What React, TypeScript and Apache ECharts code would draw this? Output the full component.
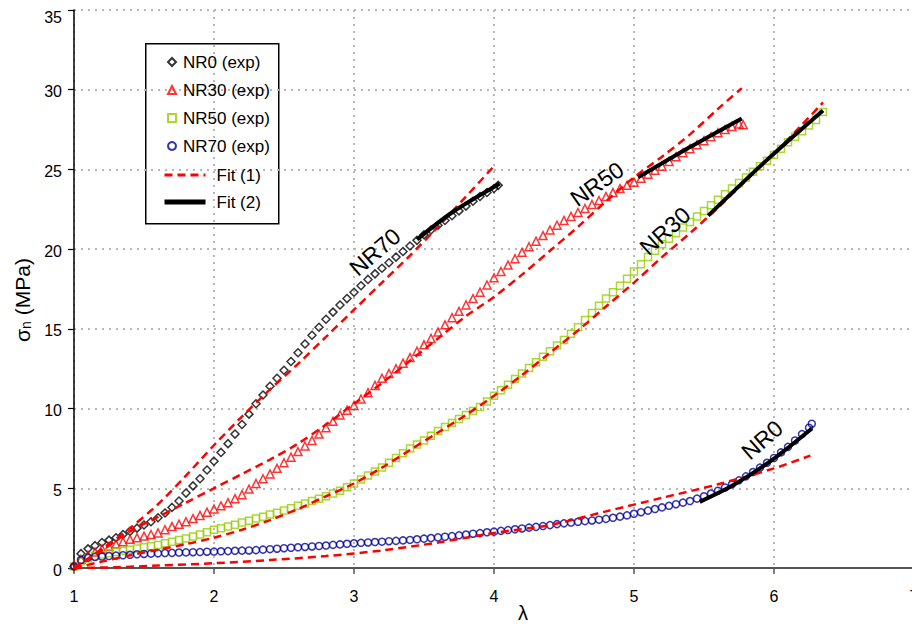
import React, { useEffect, useRef } from "react";
import * as echarts from "echarts";

// Experimental curves [lambda, sigma_n (MPa)]
const expNR70 = [
  [1.0, 0.1], [1.05, 0.9], [1.1, 1.2], [1.15, 1.4], [1.2, 1.6], [1.25, 1.75], [1.3, 1.9],
  [1.35, 2.1], [1.4, 2.3], [1.45, 2.5], [1.5, 2.7], [1.55, 2.9], [1.6, 3.15], [1.65, 3.45],
  [1.7, 3.8], [1.75, 4.2], [1.8, 4.7], [1.85, 5.15], [1.9, 5.6], [1.95, 6.15], [2.0, 6.7],
  [2.05, 7.25], [2.1, 7.8], [2.15, 8.4], [2.2, 9.0], [2.25, 9.65], [2.3, 10.3], [2.35, 10.85],
  [2.4, 11.4], [2.45, 11.9], [2.5, 12.4], [2.55, 12.95], [2.6, 13.5], [2.65, 14.05], [2.7, 14.6],
  [2.75, 15.1], [2.8, 15.6], [2.85, 16.05], [2.9, 16.5], [2.95, 16.9], [3.0, 17.3], [3.05, 17.7],
  [3.1, 18.1], [3.15, 18.45], [3.2, 18.8], [3.25, 19.15], [3.3, 19.5], [3.35, 19.85], [3.4, 20.2],
  [3.45, 20.55], [3.5, 20.9], [3.55, 21.2], [3.6, 21.5], [3.65, 21.8], [3.7, 22.1], [3.75, 22.4],
  [3.8, 22.7], [3.85, 23.0], [3.9, 23.3], [3.95, 23.55], [4.0, 23.8], [4.03, 24.0],
];
const expNR50 = [
  [1.0, 0.2], [1.05, 0.55], [1.1, 0.8], [1.15, 1.0], [1.2, 1.2], [1.25, 1.35], [1.3, 1.5],
  [1.35, 1.65], [1.4, 1.8], [1.45, 1.9], [1.5, 2.0], [1.55, 2.1], [1.6, 2.2], [1.65, 2.4],
  [1.7, 2.6], [1.75, 2.75], [1.8, 2.9], [1.85, 3.1], [1.9, 3.3], [1.95, 3.5], [2.0, 3.7],
  [2.05, 3.9], [2.1, 4.1], [2.15, 4.35], [2.2, 4.6], [2.25, 4.95], [2.3, 5.3], [2.35, 5.6],
  [2.4, 5.9], [2.45, 6.25], [2.5, 6.6], [2.55, 6.95], [2.6, 7.3], [2.65, 7.65], [2.7, 8.0],
  [2.75, 8.4], [2.8, 8.8], [2.85, 9.2], [2.9, 9.6], [2.95, 9.9], [3.0, 10.2], [3.05, 10.6],
  [3.1, 11.0], [3.15, 11.45], [3.2, 11.9], [3.25, 12.2], [3.3, 12.5], [3.35, 12.85], [3.4, 13.2],
  [3.45, 13.6], [3.5, 14.0], [3.55, 14.4], [3.6, 14.8], [3.65, 15.25], [3.7, 15.7], [3.75, 16.1],
  [3.8, 16.5], [3.85, 16.9], [3.9, 17.3], [3.95, 17.75], [4.0, 18.2], [4.05, 18.6], [4.1, 19.0],
  [4.15, 19.4], [4.2, 19.8], [4.25, 20.15], [4.3, 20.5], [4.35, 20.85], [4.4, 21.2], [4.45, 21.5],
  [4.5, 21.8], [4.55, 22.05], [4.6, 22.3], [4.65, 22.55], [4.7, 22.8], [4.75, 23.05], [4.8, 23.3],
  [4.85, 23.55], [4.9, 23.8], [4.95, 24.0], [5.0, 24.2], [5.05, 24.45], [5.1, 24.7], [5.15, 24.95],
  [5.2, 25.2], [5.25, 25.5], [5.3, 25.8], [5.35, 26.05], [5.4, 26.3], [5.45, 26.55], [5.5, 26.8],
  [5.55, 27.05], [5.6, 27.3], [5.65, 27.5], [5.7, 27.7], [5.75, 27.85], [5.78, 27.8],
];
const expNR30 = [
  [1.0, 0.1], [1.05, 0.4], [1.1, 0.6], [1.15, 0.75], [1.2, 0.85], [1.25, 0.93], [1.3, 1.0],
  [1.35, 1.08], [1.4, 1.15], [1.45, 1.22], [1.5, 1.3], [1.55, 1.37], [1.6, 1.45], [1.65, 1.55],
  [1.7, 1.65], [1.75, 1.75], [1.8, 1.85], [1.85, 1.97], [1.9, 2.1], [1.95, 2.25], [2.0, 2.4],
  [2.05, 2.5], [2.1, 2.6], [2.15, 2.72], [2.2, 2.85], [2.25, 2.97], [2.3, 3.1], [2.35, 3.22],
  [2.4, 3.35], [2.45, 3.47], [2.5, 3.6], [2.55, 3.75], [2.6, 3.9], [2.65, 4.05], [2.7, 4.2],
  [2.75, 4.35], [2.8, 4.5], [2.85, 4.67], [2.9, 4.85], [2.95, 5.07], [3.0, 5.3], [3.05, 5.55],
  [3.1, 5.8], [3.15, 6.05], [3.2, 6.3], [3.25, 6.6], [3.3, 6.9], [3.35, 7.2], [3.4, 7.5],
  [3.45, 7.75], [3.5, 8.0], [3.55, 8.3], [3.6, 8.6], [3.65, 8.85], [3.7, 9.1], [3.75, 9.35],
  [3.8, 9.6], [3.85, 9.85], [3.9, 10.1], [3.95, 10.45], [4.0, 10.8], [4.05, 11.15], [4.1, 11.5],
  [4.15, 11.85], [4.2, 12.2], [4.25, 12.55], [4.3, 12.9], [4.35, 13.25], [4.4, 13.6], [4.45, 13.95],
  [4.5, 14.3], [4.55, 14.7], [4.6, 15.1], [4.65, 15.55], [4.7, 16.0], [4.75, 16.45], [4.8, 16.9],
  [4.85, 17.3], [4.9, 17.7], [4.95, 18.15], [5.0, 18.6], [5.05, 19.05], [5.1, 19.5], [5.15, 19.9],
  [5.2, 20.3], [5.25, 20.65], [5.3, 21.0], [5.35, 21.35], [5.4, 21.7], [5.45, 22.05], [5.5, 22.4],
  [5.55, 22.75], [5.6, 23.1], [5.65, 23.45], [5.7, 23.8], [5.75, 24.15], [5.8, 24.5], [5.85, 24.85],
  [5.9, 25.2], [5.95, 25.55], [6.0, 25.9], [6.05, 26.3], [6.1, 26.7], [6.15, 27.05], [6.2, 27.4],
  [6.25, 27.75], [6.3, 28.1], [6.35, 28.6],
];
const expNR0 = [
  [1.0, 0.1], [1.05, 0.5], [1.1, 0.65], [1.15, 0.69], [1.2, 0.72], [1.25, 0.75], [1.3, 0.78],
  [1.35, 0.8], [1.4, 0.83], [1.45, 0.86], [1.5, 0.88], [1.55, 0.9], [1.6, 0.92], [1.65, 0.94],
  [1.7, 0.95], [1.75, 0.97], [1.8, 0.98], [1.85, 0.99], [1.9, 1.0], [1.95, 1.02], [2.0, 1.03],
  [2.05, 1.05], [2.1, 1.06], [2.15, 1.08], [2.2, 1.09], [2.25, 1.1], [2.3, 1.12], [2.35, 1.15],
  [2.4, 1.18], [2.45, 1.21], [2.5, 1.24], [2.55, 1.27], [2.6, 1.3], [2.65, 1.32], [2.7, 1.35],
  [2.75, 1.38], [2.8, 1.41], [2.85, 1.45], [2.9, 1.48], [2.95, 1.52], [3.0, 1.55], [3.05, 1.58],
  [3.1, 1.6], [3.15, 1.63], [3.2, 1.65], [3.25, 1.68], [3.3, 1.7], [3.35, 1.73], [3.4, 1.76],
  [3.45, 1.8], [3.5, 1.84], [3.55, 1.88], [3.6, 1.92], [3.65, 1.96], [3.7, 2.0], [3.75, 2.05],
  [3.8, 2.1], [3.85, 2.15], [3.9, 2.19], [3.95, 2.24], [4.0, 2.28], [4.05, 2.33], [4.1, 2.38],
  [4.15, 2.43], [4.2, 2.48], [4.25, 2.53], [4.3, 2.58], [4.35, 2.63], [4.4, 2.69], [4.45, 2.75],
  [4.5, 2.8], [4.55, 2.85], [4.6, 2.9], [4.65, 2.94], [4.7, 2.98], [4.75, 3.03], [4.8, 3.08],
  [4.85, 3.15], [4.9, 3.22], [4.95, 3.3], [5.0, 3.4], [5.05, 3.5], [5.1, 3.6], [5.15, 3.7],
  [5.2, 3.8], [5.25, 3.9], [5.3, 4.0], [5.35, 4.1], [5.4, 4.2], [5.45, 4.35], [5.5, 4.5],
  [5.55, 4.67], [5.6, 4.85], [5.65, 5.05], [5.7, 5.25], [5.75, 5.5], [5.8, 5.75], [5.85, 6.02],
  [5.9, 6.3], [5.95, 6.6], [6.0, 6.9], [6.05, 7.25], [6.1, 7.6], [6.15, 8.0], [6.2, 8.4],
  [6.25, 8.8], [6.27, 9.05],
];

// Fit (1) curves
const fit1NR70 = [
  [1.0, 0.0], [1.2, 1.2], [1.4, 2.5], [1.6, 4.0], [1.8, 5.8], [2.0, 7.7], [2.2, 9.5],
  [2.4, 11.2], [2.6, 12.8], [2.8, 14.5], [3.0, 16.2], [3.2, 17.9], [3.4, 19.6], [3.6, 21.4],
  [3.8, 23.3], [4.01, 25.3],
];
const fit1NR50 = [
  [1.0, 0.0], [1.2, 1.1], [1.4, 2.3], [1.6, 3.2], [1.8, 4.1], [2.0, 5.0], [2.2, 5.9],
  [2.4, 6.8], [2.6, 7.8], [2.8, 9.0], [3.0, 10.3], [3.2, 11.6], [3.4, 13.0], [3.6, 14.4],
  [3.8, 15.8], [4.0, 17.0], [4.2, 18.4], [4.4, 19.9], [4.6, 21.4], [4.8, 23.0], [5.0, 24.5],
  [5.2, 25.8], [5.4, 27.2], [5.6, 28.8], [5.77, 30.1],
];
const fit1NR30 = [
  [1.0, 0.0], [1.2, 0.4], [1.4, 0.8], [1.6, 1.15], [1.8, 1.5], [2.0, 1.9], [2.2, 2.4],
  [2.4, 3.0], [2.6, 3.7], [2.8, 4.5], [3.0, 5.3], [3.2, 6.3], [3.4, 7.4], [3.6, 8.5],
  [3.8, 9.6], [4.0, 10.8], [4.2, 12.1], [4.4, 13.5], [4.6, 14.9], [4.8, 16.4], [5.0, 17.9],
  [5.2, 19.5], [5.4, 21.0], [5.6, 22.6], [5.8, 24.3], [6.0, 26.0], [6.2, 27.8], [6.35, 29.2],
];
const fit1NR0 = [
  [1.0, 0.0], [1.3, 0.05], [1.6, 0.15], [2.0, 0.3], [2.4, 0.5], [2.8, 0.75], [3.2, 1.1],
  [3.6, 1.6], [4.0, 2.2], [4.4, 2.7], [4.8, 3.55], [5.2, 4.4], [5.6, 5.25], [6.0, 6.25],
  [6.26, 7.05],
];

// Fit (2) curves
const fit2NR70 = [[3.45, 20.6], [3.7, 22.3], [4.04, 24.1]];
const fit2NR50 = [[5.03, 24.5], [5.4, 26.4], [5.77, 28.2]];
const fit2NR30 = [[5.53, 22.1], [5.95, 25.6], [6.35, 28.7]];
const fit2NR0 = [[5.47, 4.15], [5.71, 5.2], [5.99, 6.8], [6.27, 8.75]];

const xTicks = [1, 2, 3, 4, 5, 6, 7];
const yTicks = [0, 5, 10, 15, 20, 25, 30, 35];

const curveLabels = [
  { text: "NR70", x: 375, y: 252, angle: 41 },
  { text: "NR50", x: 597, y: 184, angle: 35 },
  { text: "NR30", x: 665, y: 231, angle: 42 },
  { text: "NR0", x: 762, y: 440, angle: 41 },
];

const FONT = "'Liberation Sans', Arial, sans-serif";

export default function App() {
  const ref = useRef<HTMLDivElement>(null);
  useEffect(() => {
    const chart = echarts.init(ref.current!, null, { renderer: "svg" });
    const scatter = (name: string, data: number[][], symbol: string, color: string, size: number) => ({
      name,
      type: "scatter",
      data,
      symbol,
      symbolSize: size,
      itemStyle: { color: "transparent", borderColor: color, borderWidth: 1.5 },
      z: 2,
    });
    const fit1 = (data: number[][]) => ({
      name: "Fit (1)",
      type: "line",
      data,
      symbol: "none",
      smooth: 0.3,
      lineStyle: { color: "#ff0000", width: 2.5, type: [8, 5] },
      itemStyle: { color: "#ff0000" },
      z: 3,
    });
    const fit2 = (data: number[][]) => ({
      name: "Fit (2)",
      type: "line",
      data,
      symbol: "none",
      smooth: 0.3,
      lineStyle: { color: "#000000", width: 4 },
      itemStyle: { color: "#000000" },
      z: 4,
    });
    const maxY = yTicks[yTicks.length - 1];
    const option: any = {
      animation: false,
      backgroundColor: "#ffffff",
      grid: { left: 74, top: 10, width: 840, height: 558, outerBoundsMode: "none", containLabel: false },
      xAxis: {
        type: "value",
        min: xTicks[0],
        max: xTicks[xTicks.length - 1],
        interval: 1,
        axisLine: { show: true, lineStyle: { color: "#555555", width: 2 } },
        axisTick: { show: true, length: 6, lineStyle: { color: "#555555", width: 1.5 } },
        axisLabel: { color: "#000", fontSize: 16, fontFamily: FONT, margin: 20, showMaxLabel: true },
        splitLine: { show: true, lineStyle: { color: "#b8b8b8", width: 2, type: [2, 5] } },
      },
      yAxis: {
        type: "value",
        min: yTicks[0],
        max: maxY,
        interval: 5,
        axisLine: { show: true, lineStyle: { color: "#000000", width: 1.5 } },
        axisTick: { show: true, length: 6, lineStyle: { color: "#000000", width: 1.2 } },
        axisLabel: {
          color: "#000",
          fontSize: 16,
          fontFamily: FONT,
          margin: 12,
          padding: [4, 0, 0, 0],
          formatter: (v: number) => (v === maxY ? `{top|${v}}` : `${v}`),
          rich: { top: { fontSize: 16, fontFamily: FONT, color: "#000", padding: [10, 0, 0, 0] } },
        },
        splitLine: { show: true, lineStyle: { color: "#b8b8b8", width: 2, type: [2, 5] } },
      },
      legend: [
        {
          data: ["NR0 (exp)", "NR30 (exp)", "NR50 (exp)", "NR70 (exp)"],
          orient: "vertical",
          left: 162,
          top: 47,
          itemWidth: 8,
          itemHeight: 8,
          itemGap: 8,
          selectedMode: false,
          textStyle: { color: "#000", fontSize: 17, fontFamily: FONT, lineHeight: 20, padding: [0, 0, 0, 2] },
        },
        {
          data: [
            { name: "Fit (1)", lineStyle: { width: 3 } },
            { name: "Fit (2)", lineStyle: { width: 5 } },
          ],
          orient: "vertical",
          left: 157,
          top: 160,
          itemWidth: 41,
          itemHeight: 14,
          itemGap: 7,
          selectedMode: false,
          itemStyle: { color: "transparent", borderColor: "transparent", borderWidth: 0, opacity: 0 },
          textStyle: { color: "#000", fontSize: 17, fontFamily: FONT, lineHeight: 20, padding: [0, 0, 0, 6] },
        },
      ],
      graphic: [
        {
          type: "rect",
          left: 145,
          top: 43,
          z: 0,
          shape: { width: 133, height: 180 },
          style: { fill: "#ffffff", stroke: "#000000", lineWidth: 1.5 },
        },
        {
          type: "text",
          x: 22,
          y: 300,
          rotation: Math.PI / 2,
          style: {
            text: "σ{sub|n} (MPa)",
            font: `21px ${FONT}`,
            fill: "#000",
            align: "center",
            verticalAlign: "middle",
            rich: {
              sub: { fontSize: 14, fontFamily: FONT, fill: "#000", padding: [8, 0, 0, 0] },
            },
          },
        },
        {
          type: "text",
          x: 523,
          y: 613,
          style: { text: "λ", font: `20px ${FONT}`, fill: "#000", align: "center", verticalAlign: "middle" },
        },
        ...curveLabels.map((l) => ({
          type: "text",
          x: l.x,
          y: l.y,
          rotation: (l.angle * Math.PI) / 180,
          z: 10,
          style: { text: l.text, font: `23px ${FONT}`, fill: "#000", align: "center", verticalAlign: "middle" },
        })),
      ],
      series: [
        scatter("NR0 (exp)", expNR70, "diamond", "#000000", 8),
        scatter("NR30 (exp)", expNR50, "triangle", "#ff0000", 8),
        scatter("NR50 (exp)", expNR30, "rect", "#99cc00", 7),
        scatter("NR70 (exp)", expNR0, "circle", "#000099", 7),
        fit1(fit1NR70),
        fit1(fit1NR50),
        fit1(fit1NR30),
        fit1(fit1NR0),
        fit2(fit2NR70),
        fit2(fit2NR50),
        fit2(fit2NR30),
        fit2(fit2NR0),
      ],
    };
    chart.setOption(option);
    return () => chart.dispose();
  }, []);
  return <div ref={ref} style={{ position: "fixed", left: 0, top: 0, width: 912, height: 628 }} />;
}
